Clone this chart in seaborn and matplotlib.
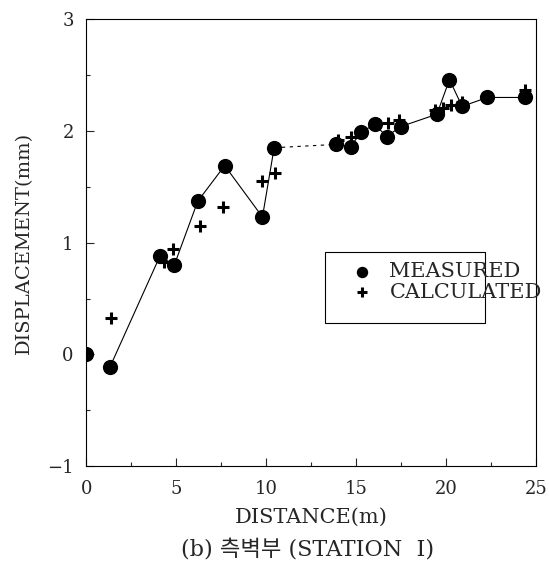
import numpy as np
import pandas as pd
import matplotlib
matplotlib.use('Agg')
import matplotlib.pyplot as plt
import matplotlib.patches as mpatches
import seaborn as sns
from matplotlib.ticker import MultipleLocator

# measured displacement (circles)
meas_x = [0.0, 1.33, 4.1, 4.9, 6.2, 7.7, 9.8, 10.45, 13.9, 14.7, 15.3, 16.05, 16.7, 17.5, 19.5, 20.2, 20.9, 22.3, 24.4]
meas_y = [0.0, -0.11, 0.88, 0.80, 1.37, 1.69, 1.23, 1.85, 1.88, 1.86, 1.99, 2.06, 1.95, 2.04, 2.15, 2.46, 2.22, 2.30, 2.30]

# calculated displacement (crosses)
calc_x = [1.4, 4.3, 4.85, 6.3, 7.6, 9.8, 10.5, 14.0, 14.7, 16.8, 17.4, 19.4, 19.85, 20.3, 20.9, 24.4]
calc_y = [0.33, 0.83, 0.94, 1.15, 1.32, 1.55, 1.62, 1.92, 1.95, 2.07, 2.10, 2.19, 2.21, 2.23, 2.26, 2.37]

ytick_vals = [-1, 0, 1, 2, 3]
ytick_labels = ['\u22121', '0', '1', '2', '3']

meas = pd.DataFrame({'x': meas_x, 'y': meas_y})
calc = pd.DataFrame({'x': calc_x, 'y': calc_y})

sns.set_style('ticks')
plt.rcParams['font.family'] = ['DejaVu Serif', 'Noto Sans CJK KR']

fig = plt.figure(figsize=(5.49, 5.67), dpi=100)
ax = fig.add_axes([0.157, 0.178, 0.819, 0.788])

# connecting line: solid, dashed across the gap, solid
seg1 = meas.iloc[1:8]
seg2 = meas.iloc[7:9]
seg3 = meas.iloc[8:]
sns.lineplot(data=seg1, x='x', y='y', sort=False, color='black', lw=0.8, ax=ax)
sns.lineplot(data=seg2, x='x', y='y', sort=False, color='black', lw=0.8, ls=(0, (3, 4)), ax=ax)
sns.lineplot(data=seg3, x='x', y='y', sort=False, color='black', lw=0.8, ax=ax)

sns.scatterplot(data=meas, x='x', y='y', marker='o', s=120, color='black',
                edgecolor='black', linewidth=0, ax=ax, label='MEASURED', zorder=3)
sns.scatterplot(data=calc, x='x', y='y', marker='+', s=85, color='black',
                linewidth=2.2, ax=ax, label='CALCULATED', zorder=4)

ax.set_xlim(0, 25)
ax.set_ylim(-1, 3)
ax.xaxis.set_major_locator(MultipleLocator(5))
ax.xaxis.set_minor_locator(MultipleLocator(2.5))
ax.yaxis.set_minor_locator(MultipleLocator(0.5))
ax.set_yticks(ytick_vals)
ax.set_yticklabels(ytick_labels)
ax.tick_params(which='both', direction='in', top=False, right=False, width=0.8, labelsize=13)
ax.tick_params(which='major', length=6)
ax.tick_params(which='minor', length=3)
ax.tick_params(axis='x', which='major', pad=10)
ax.tick_params(axis='y', which='major', pad=9)
for s in ax.spines.values():
    s.set_linewidth(0.8)
    s.set_color('black')

ax.set_xlabel('DISTANCE(m)', fontsize=15, labelpad=7)
ax.set_ylabel('DISPLACEMENT(mm)', fontsize=14, labelpad=10)

# legend: text spills past its frame, as in the scan
handles, labels = ax.get_legend_handles_labels()
leg = ax.legend(handles, labels, loc='upper left', bbox_to_anchor=(0.591, 0.456),
                frameon=False, fontsize=15, handlelength=1.0, handletextpad=0.8,
                borderpad=0, borderaxespad=0, labelspacing=0.06, markerscale=0.75)
leg.set_zorder(6)
frame = mpatches.Rectangle((0.531, 0.320), 0.356, 0.159, transform=ax.transAxes,
                           facecolor='white', edgecolor='black', lw=0.8, zorder=5)
ax.add_patch(frame)

fig.text(0.56, 0.02, '(b) 측벽부 (STATION  Ⅰ)', ha='center', fontsize=16)

fig.savefig('out.png', dpi=100)
